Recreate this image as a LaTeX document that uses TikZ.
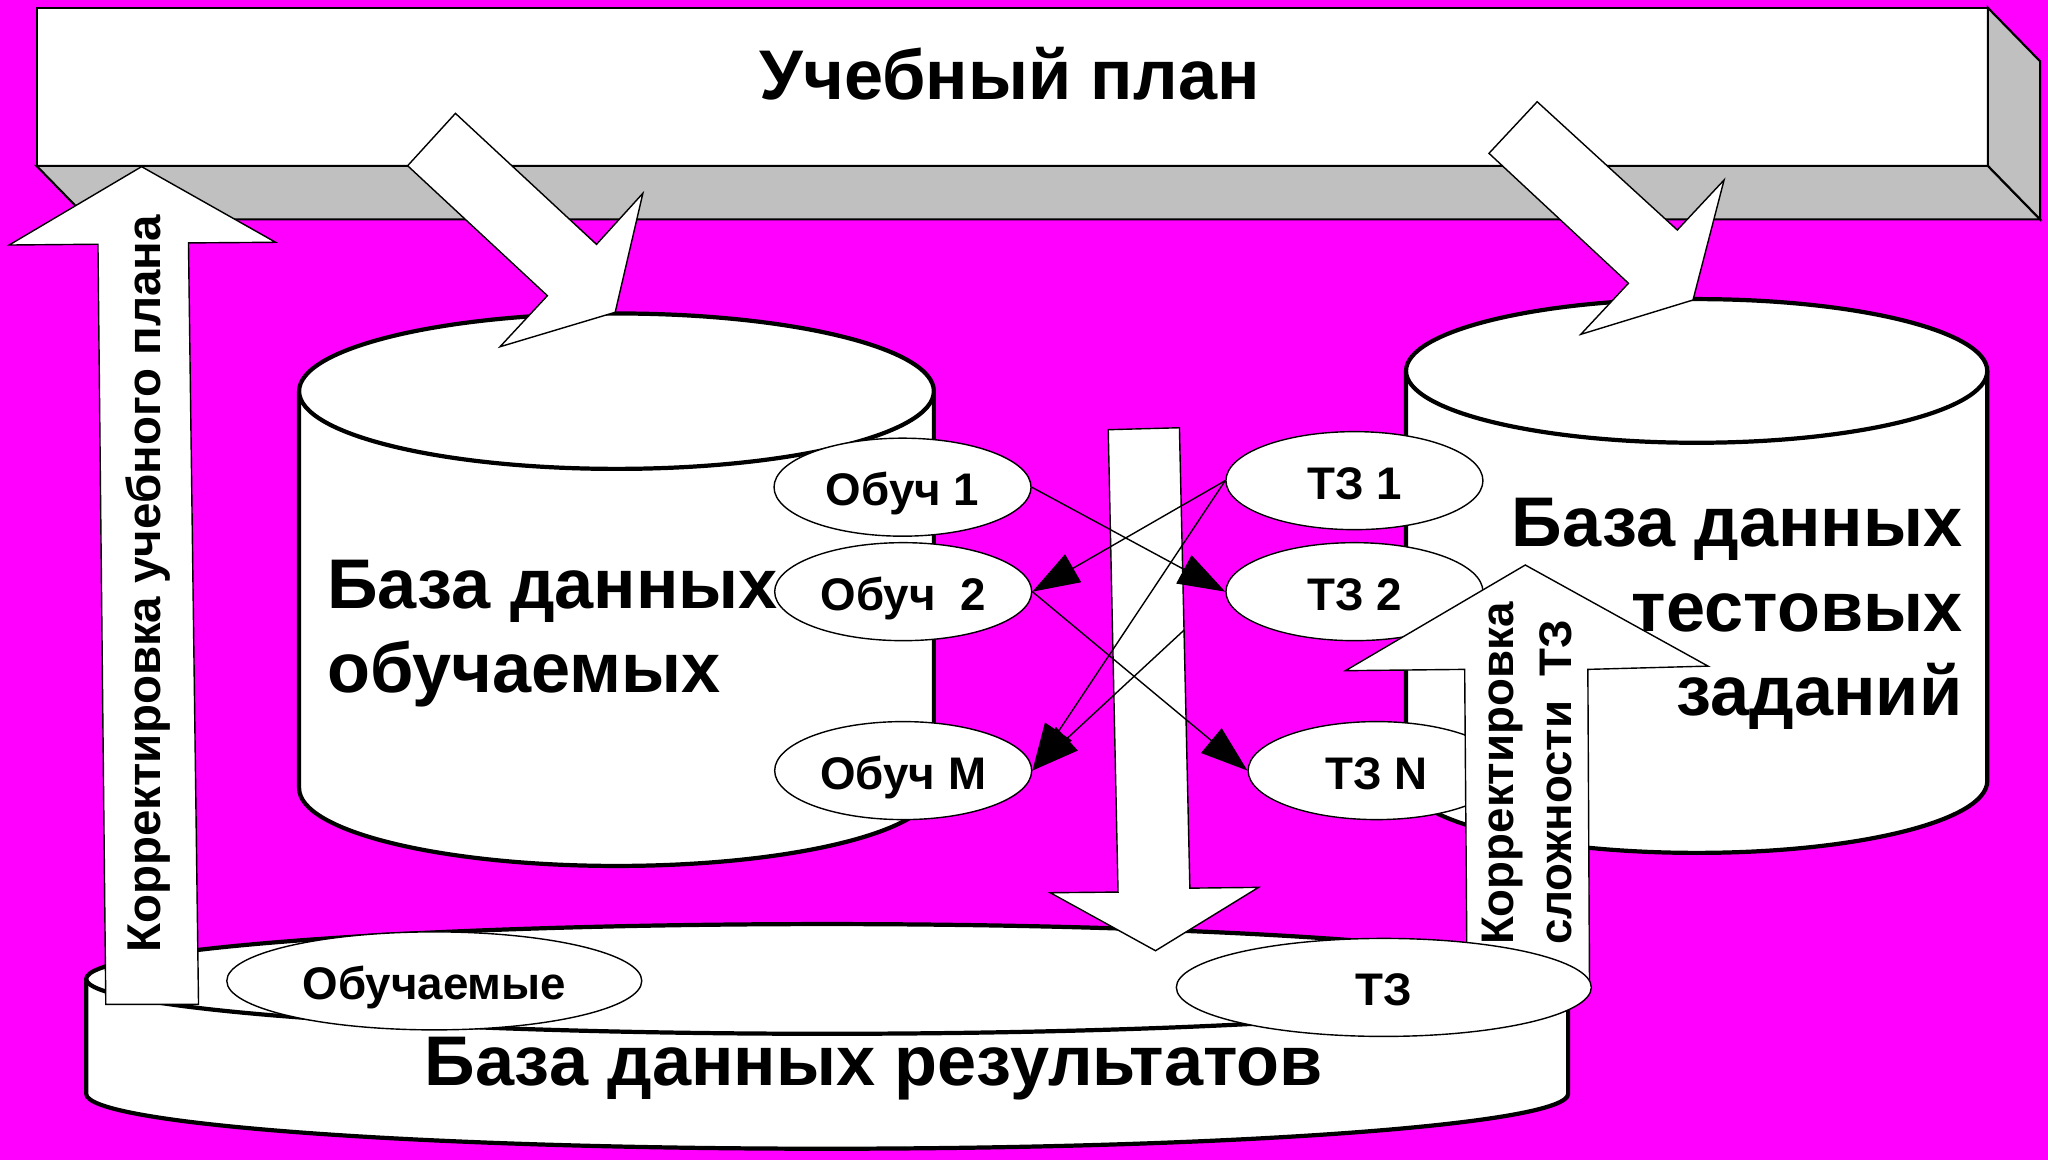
\documentclass[tikz,border=0pt]{standalone}
\usepackage{fontspec}
\setmainfont{Liberation Sans}
\usetikzlibrary{shapes.geometric,arrows.meta}
\definecolor{bgmagenta}{RGB}{255,0,255}
\definecolor{facegray}{RGB}{192,192,192}
\begin{document}
\begin{tikzpicture}[x=0.13061mm,y=-0.13061mm,
        slab/.style={draw,line width=0.6pt},
        cyl/.style={draw,fill=white,line width=1.2pt},
        blockarrow/.style={draw,fill=white,line width=0.4pt,line join=miter},
        item/.style={draw,fill=white,ellipse,line width=0.4pt,inner sep=0pt,text height=1.05em,text depth=0pt,
            minimum width=25.7mm,minimum height=9.8mm,font=\fontsize{13}{15}\selectfont\bfseries},
        wideitem/.style={item,minimum width=41.5mm},
        link/.style={line width=0.4pt,-{Triangle[length=4.7mm,width=3.2mm]}},
        biglabel/.style={font=\fontsize{20}{24}\selectfont\bfseries,inner sep=0pt},
        sidelabel/.style={rotate=90,inner sep=0pt,font=\fontsize{13}{16.3}\selectfont\bfseries}]
        \path[use as bounding box,fill=bgmagenta] (0,0) rectangle (1568,888);
        % plan slab
        \draw[slab,fill=white] (28,6) rectangle (1522,127);
        \draw[slab,fill=facegray] (28,127) -- (1522,127) -- (1562,168) -- (68,168) -- cycle;
        \draw[slab,fill=facegray] (1522,6) -- (1562,47) -- (1562,168) -- (1522,127) -- cycle;
        \node[biglabel,anchor=base] (plan) at (773,76) {Учебный план};
        % databases
        \draw[cyl] (229,299.5) -- (229,603.5) arc[start angle=180,end angle=0,x radius=243,y radius=59.5] -- (715,299.5);
        \draw[cyl] (472,299.5) ellipse[x radius=243,y radius=59.5];
        \draw[cyl] (1076.5,284) -- (1076.5,598) arc[start angle=180,end angle=0,x radius=222.5,y radius=55] -- (1521.5,284);
        \draw[cyl] (1299,284) ellipse[x radius=222.5,y radius=55];
        \draw[cyl] (66,749.5) -- (66,837.5) arc[start angle=180,end angle=0,x radius=567.3,y radius=42] -- (1200.6,749.5);
        \draw[cyl] (633.3,749.5) ellipse[x radius=567.3,y radius=42];
        % block arrows
        \draw[blockarrow] (81,769) -- (75,187) -- (7,187.6) -- (108.4,127.6) -- (211,185.5) -- (144.3,186) -- (152,769) -- cycle;
        \draw[blockarrow] (348.7,86.8) -- (312.1,126.9) -- (419.1,226.4) -- (382.8,265.5) -- (471,239.1) -- (492.2,148) -- (456.7,187.1) -- cycle;
        \draw[blockarrow] (1176.9,77.9) -- (1140,117.4) -- (1246.8,216.9) -- (1210.3,256) -- (1296.2,229.7) -- (1320,137.8) -- (1284.2,176.1) -- cycle;
        \draw[blockarrow] (848.5,329) -- (903,327.5) -- (911,680) -- (963.6,679.4) -- (884.7,727.9) -- (804.1,683.5) -- (856,683) -- cycle;
        % records
        \node[item] (ob1) at (691,373) {Обуч 1};
        \node[item] (ob2) at (691.5,453) {Обуч\hspace{7pt}2};
        \node[item] (obM) at (691.5,590) {Обуч M};
        \node[item] (tz1) at (1037,368) {ТЗ 1};
        \node[item] (tz2) at (1037,453) {ТЗ 2};
        \node[item] (tzN) at (1054,590) {ТЗ N};
        \draw[blockarrow] (1123.3,760) -- (1121.4,512.5) -- (1030.1,513.5) -- (1167.8,432.6) -- (1307.7,510) -- (1215.7,512.5) -- (1217,760) -- cycle;
        \node[wideitem] (obres) at (332.5,751) {Обучаемые};
        \node[wideitem] (tzres) at (1059.5,756) {ТЗ};
        % links
        \coordinate (lnk) at (906.8,482.2);
        \draw[link] (ob1.east) -- (tz2.west);
        \draw[link] (tz1.west) -- (ob2.east);
        \draw[link] (tz1.west) -- (obM.east);
        \draw[link] (ob2.east) -- (tzN.west);
        \draw[link] (lnk) -- (obM.east);
        % labels
        \node[biglabel,align=left,anchor=west] (dbstud) at (250,485) {База данных\\обучаемых};
        \node[biglabel,align=right,anchor=east] (dbtest) at (1503,470) {База данных\\тестовых\\заданий};
        \node[biglabel,anchor=base] (dbres) at (669,831) {База данных результатов};
        \node[sidelabel,font=\fontsize{13.5}{16}\selectfont\bfseries] (corrplan) at (113,447) {Корректировка учебного плана};
        \node[sidelabel,align=left,anchor=west] (corrtz) at (1169,724) {Корректировка\\сложности\hspace{7pt}ТЗ};
    \end{tikzpicture}
\end{document}
